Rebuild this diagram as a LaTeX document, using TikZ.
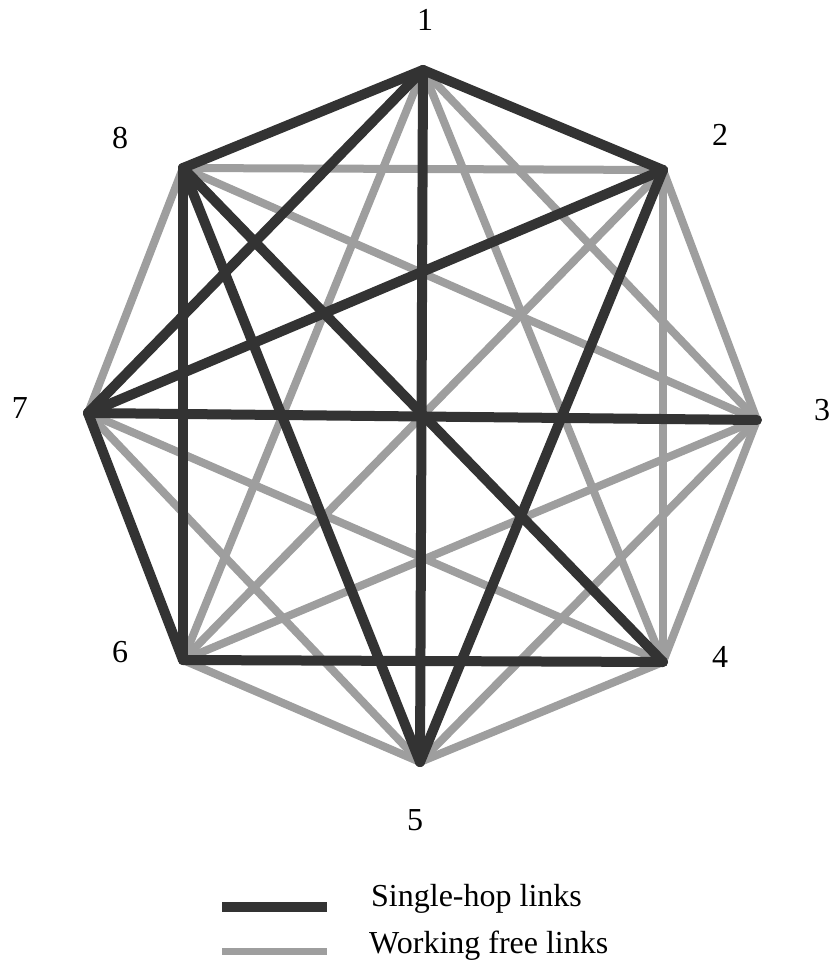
\documentclass[tikz,border=0pt]{standalone}
\usepackage{fontspec}
\setmainfont{Liberation Serif}
\begin{document}
\begin{tikzpicture}[x=1pt,y=-1pt,
  hop/.style={draw=black!80,line width=10pt,line cap=round,line join=round},
  free/.style={draw=black!38,line width=8pt,line cap=round},
  lbl/.style={font=\fontsize{32}{38}\selectfont,inner sep=0pt}]
\useasboundingbox (0,0) rectangle (832,973);
\coordinate (n1) at (423,70);
\coordinate (n2) at (663,170);
\coordinate (n3) at (757,420);
\coordinate (n4) at (663,662);
\coordinate (n5) at (420,762);
\coordinate (n6) at (183,660);
\coordinate (n7) at (88,413);
\coordinate (n8) at (183,168);
% working free links
\foreach \a/\b in {1/3,1/4,1/6,2/3,2/4,2/6,2/8,3/4,3/5,3/6,3/8,4/5,4/7,5/6,5/7,7/8}
  \draw[free] (n\a) -- (n\b);
% single-hop links
\foreach \a/\b in {1/8,1/2,1/5,1/7,2/7,2/5,3/7,6/8,5/8,4/8,6/7,4/6}
  \draw[hop] (n\a) -- (n\b);
% labels
\node[lbl] (l1) at (425,20) {1};
\node[lbl] (l2) at (720,135) {2};
\node[lbl] (l3) at (822,410) {3};
\node[lbl] (l4) at (720,657) {4};
\node[lbl] (l5) at (415,820) {5};
\node[lbl] (l6) at (120,652) {6};
\node[lbl] (l7) at (20,408) {7};
\node[lbl] (l8) at (120,138) {8};
% legend
\coordinate (a1) at (222,907);
\coordinate (a2) at (327,907);
\coordinate (b1) at (222,951);
\coordinate (b2) at (327,951);
\draw[draw=black!80,line width=10pt] (a1) -- (a2);
\draw[draw=black!38,line width=7pt] (b1) -- (b2);
\node[lbl,anchor=west] (t1) at (371,899) {Single-hop links};
\node[lbl,anchor=west] (t2) at (369,946) {Working free links};
\end{tikzpicture}
\end{document}
